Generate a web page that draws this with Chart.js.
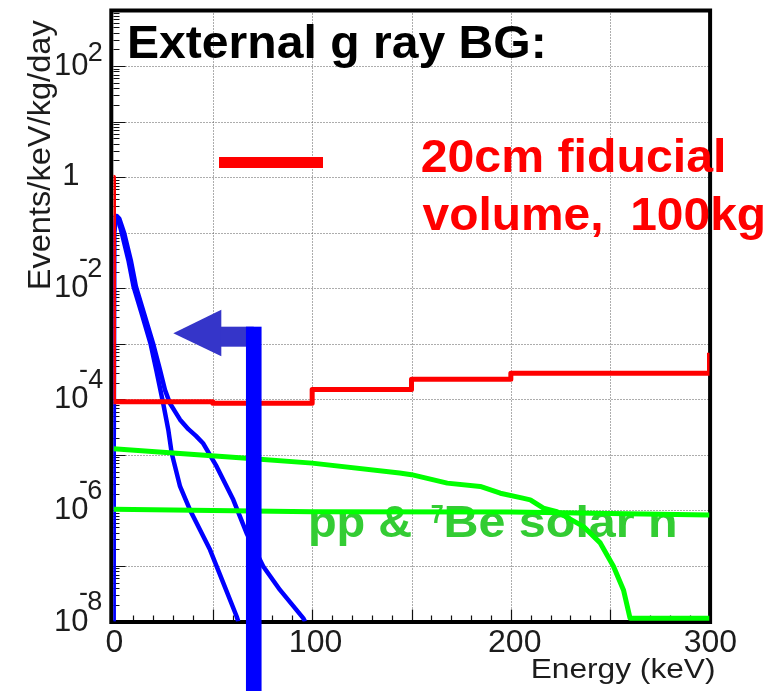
<!DOCTYPE html>
<html>
<head>
<meta charset="utf-8">
<script src="https://cdn.jsdelivr.net/npm/chart.js@4.4.1/dist/chart.umd.min.js"></script>
<style>
html,body{margin:0;padding:0;background:#fff;}
canvas{display:block;}
</style>
</head>
<body>
<canvas id="c" width="778" height="691" style="width:778px;height:691px"></canvas>
<script>
// ---------------- data ----------------
// Energy in keV, rate in Events/keV/kg/day
const redEnergy = [0, 0, 50, 50, 100, 100, 150, 150, 200, 200, 300, 300];
const redRate   = [1, 9.0e-5, 9.0e-5, 8.5e-5, 8.5e-5, 1.5e-4, 1.5e-4, 2.3e-4, 2.3e-4, 2.95e-4, 2.95e-4, 6.9e-4];

const blueSteepEnergy = [0, 0.3, 1.0, 2.2, 4.2, 7.5, 10.1, 14.2, 18.6, 21.5, 25.0, 27.6, 29.3, 33.5, 38.5, 48.6, 55.3, 62.0, 62.8];
const blueSteepRate   = [1e-8, 0.1, 0.2, 0.18, 0.098, 0.032, 0.0107, 3.5e-3, 1.02e-3, 3.4e-4, 8.5e-5, 2.8e-5, 1.07e-5, 2.7e-6, 1.02e-6, 1.95e-7, 4.9e-8, 1.23e-8, 1e-8];

const blueWideEnergy = [0, 0.3, 1.6, 2.9, 5.4, 8.7, 11.3, 15.4, 19.9, 23.4, 25.9, 28.4, 31.0, 33.5, 37.7, 41.5, 45.2, 51.9, 60.3, 67.0, 75.4, 83.8, 95.5, 96.4];
const blueWideRate   = [1e-8, 0.1, 0.2, 0.18, 0.098, 0.032, 0.0107, 3.5e-3, 1.02e-3, 3.4e-4, 1.48e-4, 8.5e-5, 6.0e-5, 4.3e-5, 2.9e-5, 2.2e-5, 1.6e-5, 6.2e-6, 1.55e-6, 3.9e-7, 9.8e-8, 3.7e-8, 1.15e-8, 1e-8];

const greenFallEnergy = [0, 67, 100, 144, 150, 168, 184.6, 194.7, 206, 209.8, 216.4, 223.2, 236.6, 245, 251.7, 256.7, 260, 300];
const greenFallRate   = [1.29e-5, 8.7e-6, 7.1e-6, 4.7e-6, 4.4e-6, 3.1e-6, 2.7e-6, 2.04e-6, 1.66e-6, 1.55e-6, 1.1e-6, 9.5e-7, 5.1e-7, 2.6e-7, 9.8e-8, 3.7e-8, 1.15e-8, 1.15e-8];

const greenFlatEnergy = [0, 100, 200, 300];
const greenFlatRate   = [1.05e-6, 9.5e-7, 9.4e-7, 8.3e-7];

// axes
const energyMin = 0, energyMax = 300;
const rateMin = 1e-8, rateMax = 1e3;
const energyTicks = [0, 100, 200, 300];
const energyTickLabels = ['0', '100', '200', '300'];
const rateTickExponents = [2, 0, -2, -4, -6, -8];

// texts
const titleText = 'External g ray BG:';
const redNoteLines = ['20cm fiducial', 'volume,  100kg'];
const greenNote = ['pp &', '7', 'Be solar n'];
const yAxisTitle = 'Events/keV/kg/day';
const xAxisTitle = 'Energy (keV)';

// annotation arrow (in data units)
const arrowBarEnergy = 70.6, arrowBarTopRate = 2.03e-3;
const arrowTipEnergy = 30.1, arrowTipRate = 1.54e-3;

// ---------------- helpers ----------------
function pts(xs, ys) { return xs.map((x, i) => ({ x: x, y: ys[i] })); }

function drawInk(ctx, text, font, left, baseline, width, color) {
  ctx.save();
  ctx.font = font;
  ctx.fillStyle = color;
  ctx.textAlign = 'left';
  ctx.textBaseline = 'alphabetic';
  const m = ctx.measureText(text);
  const ink = m.actualBoundingBoxLeft + m.actualBoundingBoxRight;
  const s = width ? width / ink : 1;
  ctx.translate(left, baseline);
  ctx.scale(s, 1);
  ctx.fillText(text, m.actualBoundingBoxLeft, 0);
  ctx.restore();
}
function inkWidth(ctx, text, font) {
  ctx.save(); ctx.font = font;
  const m = ctx.measureText(text);
  ctx.restore();
  return { w: m.actualBoundingBoxLeft + m.actualBoundingBoxRight, l: m.actualBoundingBoxLeft };
}

const FONT = '"Liberation Sans", Arial, Helvetica, sans-serif';

const overlay = {
  id: 'overlay',
  beforeDatasetsDraw(chart) {
    const ctx = chart.ctx, xs = chart.scales.x, ys = chart.scales.y, a = chart.chartArea;
    ctx.save();
    // dotted grid at the library's tick positions
    ctx.strokeStyle = '#5a5a5a';
    ctx.lineWidth = 1;
    ctx.setLineDash([1, 2]);
    ctx.beginPath();
    xs.ticks.forEach(t => {
      if (t.value <= energyMin || t.value >= energyMax) return;
      const X = Math.round(xs.getPixelForValue(t.value)) + 0.5;
      ctx.moveTo(X, a.top); ctx.lineTo(X, a.bottom);
    });
    ys.ticks.forEach(t => {
      if (t.value <= rateMin * 1.0001 || t.value >= rateMax * 0.9999) return;
      const Y = Math.round(ys.getPixelForValue(t.value)) + 0.5;
      ctx.moveTo(a.left, Y); ctx.lineTo(a.right, Y);
    });
    ctx.stroke();
    ctx.setLineDash([]);
    // tick marks
    ctx.strokeStyle = '#111';
    ctx.lineWidth = 1.2;
    ctx.beginPath();
    for (let v = energyMin; v <= energyMax; v += 10) {
      const X = Math.round(xs.getPixelForValue(v)) + 0.5;
      const len = (v % 50 === 0) ? 12 : 6;
      ctx.moveTo(X, a.bottom); ctx.lineTo(X, a.bottom - len);
    }
    for (let e = -8; e < 3; e++) {
      for (let k = 1; k <= 9; k++) {
        const Y = Math.round(ys.getPixelForValue(k * Math.pow(10, e))) + 0.5;
        const len = (k === 1) ? 12 : 6;
        ctx.moveTo(a.left, Y); ctx.lineTo(a.left + len, Y);
      }
    }
    ctx.stroke();
    // frame
    ctx.strokeStyle = '#000';
    ctx.lineWidth = 4;
    ctx.strokeRect(a.left - 2.2, a.top, (a.right + 0.6) - (a.left - 2.2), (a.bottom + 0.5) - a.top);
    ctx.restore();

    // title
    drawInk(ctx, titleText, 'bold 47px ' + FONT, 130, 58.3, 413, '#000');

    // red legend sample + note
    ctx.save();
    ctx.fillStyle = '#ff0000';
    ctx.fillRect(219, 157, 104, 11);
    ctx.restore();
    drawInk(ctx, redNoteLines[0], 'bold 47px ' + FONT, 421.7, 171.7, 301.6, '#ff0000');
    drawInk(ctx, redNoteLines[1], 'bold 47px ' + FONT, 422.5, 229.5, 340.8, '#ff0000');

    // green note (drawn under the lines)
    const gcol = '#33cc33';
    drawInk(ctx, greenNote[0], 'bold 45px ' + FONT, 310, 536.7, 101.7, gcol);
    drawInk(ctx, greenNote[1], 'bold 26px ' + FONT, 431.7, 523.3, 11.6, gcol);
    drawInk(ctx, greenNote[2], 'bold 45px ' + FONT, 446.7, 536.7, 228.3, gcol);
  },
  afterDatasetsDraw(chart) {
    const ctx = chart.ctx, xs = chart.scales.x, ys = chart.scales.y;
    const bx = xs.getPixelForValue(arrowBarEnergy), btop = ys.getPixelForValue(arrowBarTopRate);
    const tx = xs.getPixelForValue(arrowTipEnergy), ty = ys.getPixelForValue(arrowTipRate);
    ctx.save();
    ctx.fillStyle = '#3535c9';
    ctx.beginPath();
    ctx.moveTo(tx, ty);
    ctx.lineTo(tx + 48, ty - 23.5);
    ctx.lineTo(tx + 48, ty + 23);
    ctx.closePath();
    ctx.fill();
    ctx.fillRect(tx + 47, btop, bx - (tx + 47), 20);
    ctx.fillStyle = '#0000ff';
    ctx.fillRect(bx - 7.8, btop, 15.6, chart.height - btop);
    ctx.restore();
  },
  afterDraw(chart) {
    const ctx = chart.ctx, xs = chart.scales.x, ys = chart.scales.y;
    const col = '#1c1c1c';
    // x tick labels
    energyTicks.forEach((v, i) => {
      const X = xs.getPixelForValue(v);
      const f = '32px ' + FONT;
      const w = inkWidth(ctx, energyTickLabels[i], f).w;
      const shift = (v > energyMin && v < energyMax) ? 4 : 1;
      drawInk(ctx, energyTickLabels[i], f, X - w / 2 + shift, 651.7, 0, col);
    });
    // y tick labels
    rateTickExponents.forEach(e => {
      const Y = ys.getPixelForValue(Math.pow(10, e));
      const base = Y + 9;
      if (e === 0) {
        const f = '31px ' + FONT;
        const w = inkWidth(ctx, '1', f).w;
        drawInk(ctx, '1', f, 78.3 - w, Y + 8.3, 0, col);
        return;
      }
      const fb = '31px ' + FONT;
      const wb = inkWidth(ctx, '10', fb).w;
      drawInk(ctx, '10', fb, 88.3 - wb, base, 0, col);
      const fe = '27px ' + FONT;
      if (e < 0) {
        const digit = String(-e);
        drawInk(ctx, '-', fe, 80, base - 30, 0, col);
        drawInk(ctx, digit, fe, 88.3, base - 20.5, 0, col);
      } else {
        drawInk(ctx, String(e), fe, 88.8, base - 14, 0, col);
      }
    });
    // y axis title (rotated)
    ctx.save();
    ctx.translate(50, 288.3);
    ctx.rotate(-Math.PI / 2);
    drawInk(ctx, yAxisTitle, '32px ' + FONT, 0, 0, 268, col);
    ctx.restore();
    // x axis title
    drawInk(ctx, xAxisTitle, '28px ' + FONT, 533, 678.3, 181, col);
  }
};

const lineDs = (label, xs, ys, color, width) => ({
  label: label,
  data: pts(xs, ys),
  showLine: true,
  borderColor: color,
  backgroundColor: color,
  borderWidth: width,
  pointRadius: 0,
  pointHoverRadius: 0,
  fill: false,
  tension: 0,
  clip: 0,
  borderJoinStyle: 'round'
});

new Chart(document.getElementById('c'), {
  type: 'scatter',
  data: {
    datasets: [
      lineDs('pp & 7Be solar nu', greenFlatEnergy, greenFlatRate, '#00ff00', 5),
      lineDs('solar nu (falling)', greenFallEnergy, greenFallRate, '#00ff00', 5),
      lineDs('20cm fiducial volume, 100kg', redEnergy, redRate, '#ff0000', 5),
      lineDs('external gamma A', blueSteepEnergy, blueSteepRate, '#0000ff', 4.5),
      lineDs('external gamma B', blueWideEnergy, blueWideRate, '#0000ff', 4.5)
    ]
  },
  options: {
    responsive: false,
    animation: false,
    devicePixelRatio: 1,
    events: [],
    layout: { autoPadding: false, padding: { left: 113.5, right: 68.5, top: 10.5, bottom: 69.5 } },
    plugins: { legend: { display: false }, tooltip: { enabled: false }, title: { display: false } },
    scales: {
      x: {
        type: 'linear', min: energyMin, max: energyMax,
        ticks: { display: false, stepSize: 50 },
        grid: { display: false, drawTicks: false },
        border: { display: false }
      },
      y: {
        type: 'logarithmic', min: rateMin, max: rateMax,
        afterBuildTicks: (scale) => {
          const t = [];
          for (let e = -8; e <= 3; e++) t.push({ value: Math.pow(10, e) });
          scale.ticks = t;
        },
        ticks: { display: false },
        grid: { display: false, drawTicks: false },
        border: { display: false }
      }
    }
  },
  plugins: [overlay]
});
</script>
</body>
</html>
